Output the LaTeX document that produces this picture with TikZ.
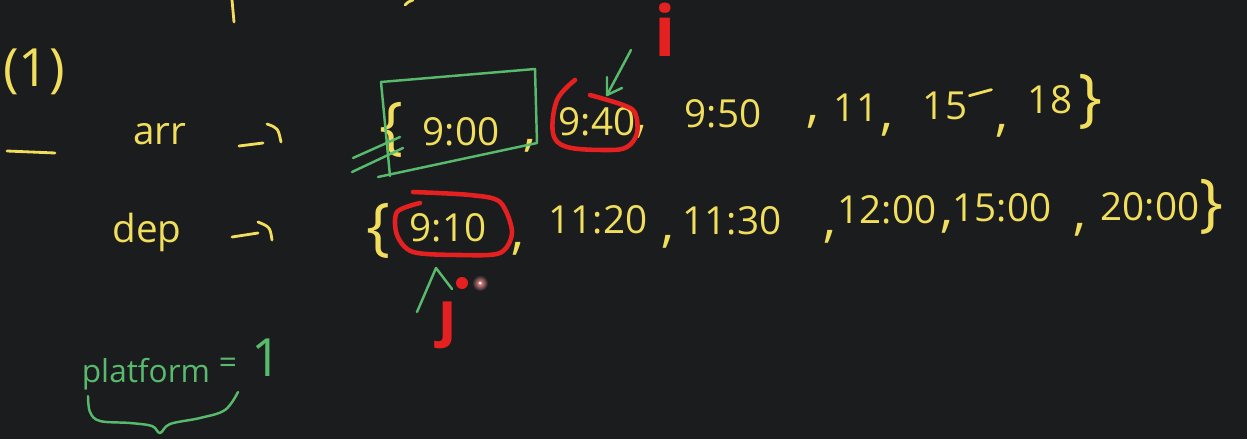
\documentclass[tikz,border=0pt]{standalone}
\usepackage{fontspec}
\setmainfont{Open Sans}
\usetikzlibrary{arrows.meta}
\definecolor{bg}{RGB}{27,28,30}
\definecolor{hy}{RGB}{240,222,92}
\definecolor{hg}{RGB}{88,186,108}
\definecolor{hr}{RGB}{228,32,32}
\definecolor{laser}{RGB}{255,150,150}
\begin{document}
\begin{tikzpicture}[x=0.02cm,y=-0.02cm,
  ytxt/.style={text=hy, font=\fontsize{22}{26}\selectfont, inner sep=0pt},
  ycom/.style={text=hy, font=\fontsize{30}{32}\selectfont, inner sep=0pt},
  ybrace/.style={text=hy, font=\fontsize{36}{40}\selectfont, inner sep=0pt},
  gtxt/.style={text=hg, font=\fontsize{18}{22}\selectfont, inner sep=0pt},
  rtxt/.style={text=hr, font=\fontsize{40}{44}\selectfont\bfseries, inner sep=0pt},
  ystroke/.style={draw=hy, line width=1.6pt, line cap=round, line join=round},
  gstroke/.style={draw=hg, line width=1.4pt, line cap=round, line join=round},
  rstroke/.style={draw=hr, line width=2.6pt, line cap=round, line join=round}]
\fill[bg] (0,0) rectangle (1247,439);
\useasboundingbox (0,0) rectangle (1247,439);

% partial strokes at the top
\draw[ystroke] (232,0) -- (234,22);
\draw[ystroke] (413,0) .. controls (408,2) .. (405,5);

% item number and dash
\node[ytxt, font=\fontsize{30}{32}\selectfont] (num) at (34,72) {(1)};
\draw[ystroke] (7,151) -- (55,153);

% row 1 : arr
\node[ytxt] (arr) at (160,134) {arr};
\coordinate (arrA) at (239,146);
\coordinate (arrB) at (263,143);
\coordinate (arrC) at (267,124);
\coordinate (arrD) at (281,142);
\draw[ystroke] (arrA) -- (arrB);
\draw[ystroke] (arrC) .. controls (278,128) .. (arrD);

\node[ybrace] (lb1) at (391,130) {\{};
\node[ytxt] (a900) at (461,132) {9:00};
\node[ycom] (c10) at (530,146) {,};
\node[ytxt] (a940) at (597,122) {9:40};
\node[ycom] (c11) at (641,132) {,};
\node[ytxt] (a950) at (723,114) {9:50};
\node[ycom] (c12) at (813,122) {,};
\node[ytxt] (a11) at (856,108) {11};
\node[ycom] (c13) at (887,130) {,};
\node[ytxt] (a15) at (945,106) {15};
\draw[ystroke] (a15.north east) ++(2,4) -- ++(22,-6);
\node[ycom] (c14) at (1002,131) {,};
\node[ytxt] (a18) at (1050,100) {18};
\node[ybrace] (rb1) at (1090,102) {\}};

% green box around first element with strike marks
\draw[gstroke] (381,82) -- (535,69) -- (537,143) -- (378,177);
\draw[gstroke] (381,82) -- (390,176);
\draw[gstroke] (353,158) -- (400,137);
\draw[gstroke] (352,172) -- (403,148);

% red loop round 9:40 and label i
\draw[rstroke] plot[smooth, tension=0.6] coordinates {(575,80) (557,100) (553,133) (567,147) (607,150) (627,147) (637,133) (635,113) (623,105) (590,95)};
\node[rtxt] (ilab) at (665,30) {i};
\coordinate (gA) at (631,50);
\coordinate (gB) at (607,95);
\draw[gstroke] (gA) -- (gB);
\draw[gstroke] (607,77) -- (gB) -- (622,88);

% row 2 : dep
\node[ytxt] (dep) at (147,232) {dep};
\coordinate (depA) at (232,237);
\coordinate (depB) at (258,233);
\coordinate (depC) at (258,222);
\coordinate (depD) at (272,240);
\draw[ystroke] (depA) -- (depB);
\draw[ystroke] (depC) .. controls (270,227) .. (depD);

\node[ybrace] (lb2) at (378,231) {\{};
\node[ytxt] (d910) at (448,228) {9:10};
\node[ycom] (c20) at (518,249) {,};
\node[ytxt] (d1120) at (598,220) {11:20};
\node[ycom] (c21) at (668,242) {,};
\node[ytxt] (d1130) at (732,221) {11:30};
\node[ycom] (c22) at (830,237) {,};
\node[ytxt] (d1200) at (887,210) {12:00};
\node[ycom] (c23) at (947,227) {,};
\node[ytxt] (d1500) at (1002,208) {15:00};
\node[ycom] (c24) at (1080,230) {,};
\node[ytxt] (d2000) at (1150,207) {20:00};
\node[ybrace] (rb2) at (1211,207) {\}};

% red box round 9:10 and label j
\draw[rstroke] plot[smooth, tension=0.5] coordinates {(413,192) (470,195) (500,202) (512,232) (500,253) (460,255) (413,252) (397,235) (397,212) (420,203)};
\fill[hr] (462,283) circle (6);
\node[rtxt, font=\fontsize{34}{36}\selectfont\bfseries] (jlab) at (448,325) {\char"0237};
\draw[gstroke] (417,312) -- (436,268) -- (452,289);
\shade[inner color=laser, outer color=bg] (480,283) circle (8);
\fill[white] (480,283) circle (1.5);

% platform
\node[gtxt] (plat) at (146,374) {platform};
\node[gtxt] (eq) at (228,366) {=};
\node[gtxt, font=\fontsize{30}{32}\selectfont] (pone) at (267,358) {1};
\draw[gstroke] plot[smooth, tension=0.6] coordinates {(88,396) (90,412) (100,421) (130,423) (152,426) (160,433) (170,424) (200,418) (225,410) (238,392)};
\end{tikzpicture}
\end{document}
